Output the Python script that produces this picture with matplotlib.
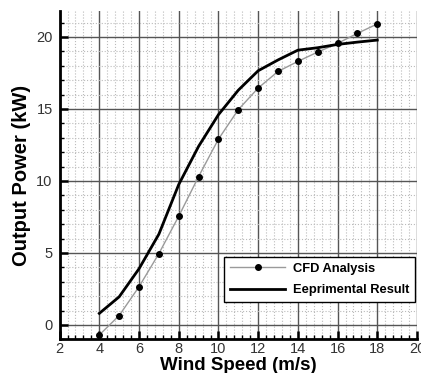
import matplotlib.pyplot as plt
from matplotlib.ticker import MultipleLocator

plt.rcParams['font.family'] = ['Liberation Sans', 'DejaVu Sans']

wind = [4, 5, 6, 7, 8, 9, 10, 11, 12, 13, 14, 15, 16, 17, 18]
cfd = [-0.7, 0.65, 2.65, 4.95, 7.55, 10.3, 12.9, 14.95, 16.45, 17.6, 18.3, 18.95, 19.55, 20.25, 20.9]
exp = [0.8, 1.95, 3.9, 6.3, 9.75, 12.4, 14.6, 16.3, 17.65, 18.4, 19.08, 19.25, 19.48, 19.64, 19.78]

fig = plt.figure(figsize=(4.21, 3.73), dpi=100)
ax = fig.add_axes([59.6/421, 1-339.3/373, (417-59.6)/421, (339.3-11)/373])

ax.plot(wind, cfd, color='#9a9a9a', lw=1, marker='o', ms=4, mfc='black', mec='black', label='CFD Analysis', zorder=3)
ax.plot(wind, exp, color='black', lw=2, label='Eeprimental Result', zorder=4)

ax.set_xlim(2, 20)
ax.set_ylim(-1, 21.8)
ax.xaxis.set_major_locator(MultipleLocator(2))
ax.xaxis.set_minor_locator(MultipleLocator(0.4))
ax.yaxis.set_major_locator(MultipleLocator(5))
ax.yaxis.set_minor_locator(MultipleLocator(1))

ax.grid(which='major', color='#555555', lw=1)
ax.grid(which='minor', color='#bbbbbb', lw=0.8, ls=':')
ax.set_axisbelow(True)

for s in ['top', 'right']:
    ax.spines[s].set_visible(False)
for s in ['left', 'bottom']:
    ax.spines[s].set_linewidth(2)

ax.tick_params(which='major', direction='in', length=6, width=1.8, labelsize=10.5, labelcolor='#333333')
ax.tick_params(axis='x', which='major', pad=2)
ax.tick_params(axis='y', which='major', pad=5)
ax.tick_params(which='minor', direction='in', length=3, width=1)

ax.set_xlabel('Wind Speed (m/s)', fontsize=13.5, fontweight='bold', labelpad=1)
ax.set_ylabel('Output Power (kW)', fontsize=14.5, fontweight='bold', labelpad=4)

leg = ax.legend(loc='lower right', bbox_to_anchor=(0.995, 0.114), prop={'weight': 'bold', 'size': 9.3},
                frameon=True, fancybox=False, edgecolor='black', framealpha=1,
                handlelength=4.3, borderpad=0.45, labelspacing=0.7, handletextpad=0.6, borderaxespad=0)
leg.get_frame().set_linewidth(1)

plt.savefig('out.png', dpi=100)
